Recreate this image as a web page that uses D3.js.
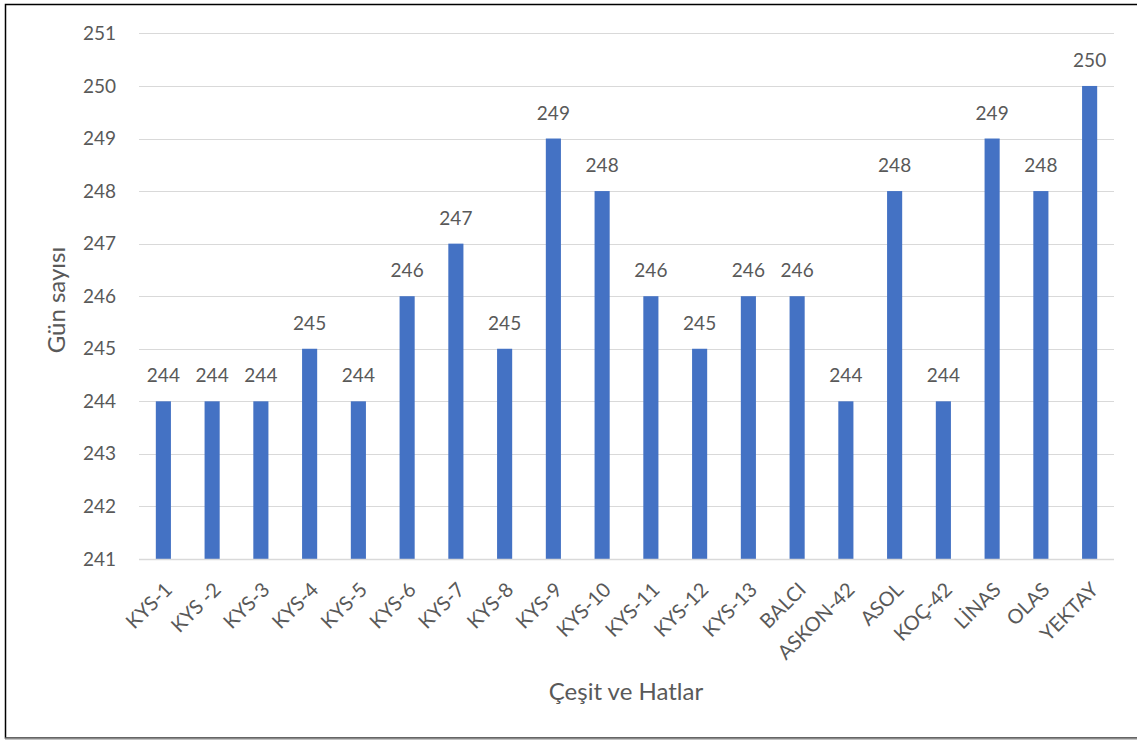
<!DOCTYPE html>
<html>
<head>
<meta charset="utf-8">
<script src="https://cdn.jsdelivr.net/npm/d3@7"></script>
<style>
  html, body { margin: 0; padding: 0; background: #fff; }
  svg { display: block; }
  text { font-family: Lato, "Open Sans", sans-serif; fill: #595959; }
</style>
</head>
<body>
<svg id="chart" width="1137" height="740"></svg>
<script>
// Varieties and lines
const categories = ["KYS-1", "KYS -2", "KYS-3", "KYS-4", "KYS-5", "KYS-6", "KYS-7", "KYS-8", "KYS-9", "KYS-10",
  "KYS-11", "KYS-12", "KYS-13", "BALCI", "ASKON-42", "ASOL", "KOÇ-42", "LİNAS", "OLAS", "YEKTAY"];
// Number of days
const values = [244, 244, 244, 245, 244, 246, 247, 245, 249, 248,
  246, 245, 246, 246, 244, 248, 244, 249, 248, 250];
const yTicks = [241, 242, 243, 244, 245, 246, 247, 248, 249, 250, 251];

const svg = d3.select("#chart");
const W = 1137, H = 740;
const plot = { left: 139, right: 1114, top: 33.4, bottom: 559 };

// Outer frame
svg.append("rect").attr("x", 5.5).attr("y", 4.5).attr("width", W + 10).attr("height", H - 6.5)
  .attr("fill", "none").attr("stroke", "#000").attr("stroke-width", 1.5);
svg.append("line").attr("x1", 5).attr("x2", W).attr("y1", 738.5).attr("y2", 738.5)
  .attr("stroke", "#8a8a8a").attr("stroke-width", 2);

const x = d3.scaleBand().domain(categories).range([plot.left, plot.right]).paddingInner(0.69).paddingOuter(0.345);
const y = d3.scaleLinear().domain([241, 251]).range([plot.bottom, plot.top]);

// Gridlines
svg.append("g").selectAll("line").data(yTicks).join("line")
  .attr("x1", plot.left).attr("x2", plot.right)
  .attr("y1", d => Math.round(y(d)) + 0.5).attr("y2", d => Math.round(y(d)) + 0.5)
  .attr("stroke", "#d9d9d9").attr("stroke-width", 1.2);

// Y axis labels
const yAxis = svg.append("g").attr("transform", `translate(${plot.left - 20},0)`)
  .call(d3.axisLeft(y).tickValues(yTicks).tickSize(0).tickPadding(3).tickFormat(d3.format("d")));
yAxis.select(".domain").remove();
yAxis.selectAll("text").style("font-size", "19px").attr("fill", "#595959")
  .style("font-family", "Lato, 'Open Sans', sans-serif");

// Bars
svg.append("g").selectAll("rect").data(values).join("rect")
  .attr("x", (d, i) => x(categories[i]))
  .attr("width", x.bandwidth())
  .attr("y", d => y(d))
  .attr("height", d => y(241) - y(d))
  .attr("fill", "#4472C4");

// Value labels
svg.append("g").selectAll("text").data(values).join("text")
  .attr("x", (d, i) => x(categories[i]) + x.bandwidth() / 2)
  .attr("y", d => y(d) - 19)
  .attr("text-anchor", "middle")
  .style("font-size", "19px")
  .text(d => d);

// Baseline
svg.append("line").attr("x1", plot.left).attr("x2", plot.right)
  .attr("y1", Math.round(y(241)) + 0.5).attr("y2", Math.round(y(241)) + 0.5)
  .attr("stroke", "#d9d9d9").attr("stroke-width", 1.5);

// X axis labels, rotated
const xAxis = svg.append("g").attr("transform", `translate(0,${plot.bottom})`)
  .call(d3.axisBottom(x).tickSize(0).tickPadding(0));
xAxis.select(".domain").remove();
xAxis.selectAll("text")
  .style("font-size", "20px").attr("fill", "#595959")
  .style("font-family", "Lato, 'Open Sans', sans-serif")
  .attr("text-anchor", "end")
  .attr("dy", "0")
  .attr("transform", "translate(10,32) rotate(-45)");

// Axis titles
svg.append("text")
  .attr("transform", `translate(65,300) rotate(-90)`)
  .attr("text-anchor", "middle")
  .style("font-size", "24px")
  .text("Gün sayısı");

svg.append("text")
  .attr("x", 626).attr("y", 700)
  .attr("text-anchor", "middle")
  .style("font-size", "24px")
  .text("Çeşit ve Hatlar");
</script>
</body>
</html>
